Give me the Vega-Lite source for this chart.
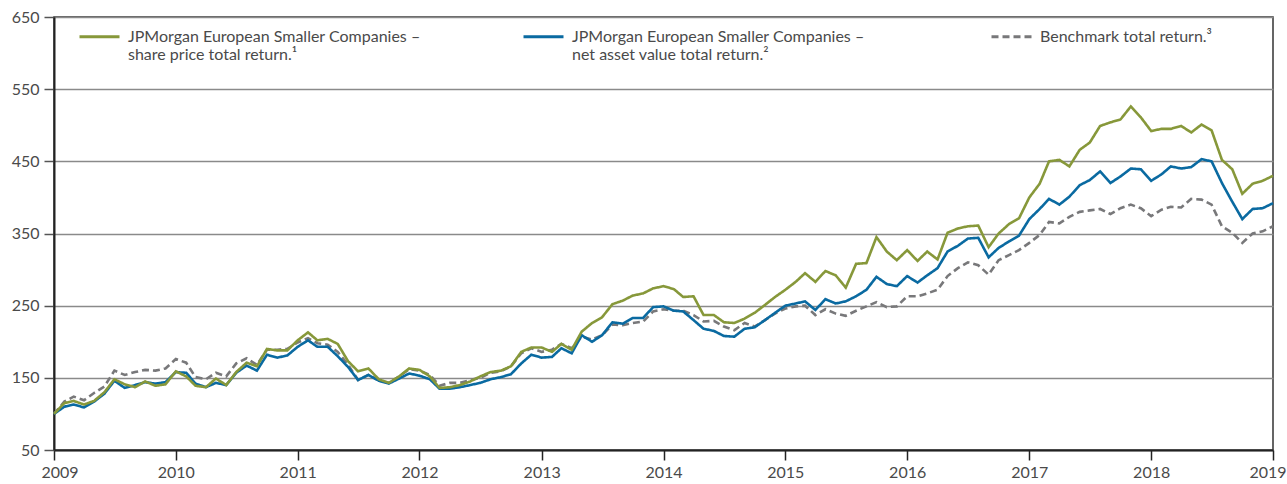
{
  "$schema": "https://vega.github.io/schema/vega-lite/v6.json",
  "width": 1219,
  "height": 433,
  "autosize": {"type": "none"},
  "padding": {"left": 54, "top": 17, "right": 14, "bottom": 34},
  "background": "white",
  "config": {
    "font": "Lato",
    "view": {"stroke": "#333333", "strokeWidth": 1.5},
    "axis": {"labelFont": "Lato", "labelFontSize": 16, "labelColor": "#4a4a4a", "title": null}
  },
  "data": {"values": [
    {"date": "2009-01-01", "sp": 100, "nav": 100, "bm": 100},
    {"date": "2009-02-01", "sp": 115, "nav": 110, "bm": 117},
    {"date": "2009-03-01", "sp": 118, "nav": 113, "bm": 124},
    {"date": "2009-04-01", "sp": 113, "nav": 109, "bm": 119},
    {"date": "2009-05-01", "sp": 118, "nav": 117, "bm": 129},
    {"date": "2009-06-01", "sp": 130, "nav": 128, "bm": 138},
    {"date": "2009-07-01", "sp": 148, "nav": 146, "bm": 160},
    {"date": "2009-08-01", "sp": 141, "nav": 136, "bm": 154},
    {"date": "2009-09-01", "sp": 137, "nav": 140, "bm": 158},
    {"date": "2009-10-01", "sp": 145, "nav": 144, "bm": 161},
    {"date": "2009-11-01", "sp": 139, "nav": 142, "bm": 160},
    {"date": "2009-12-01", "sp": 141, "nav": 144, "bm": 163},
    {"date": "2010-01-01", "sp": 159, "nav": 158, "bm": 176},
    {"date": "2010-02-01", "sp": 152, "nav": 157, "bm": 171},
    {"date": "2010-03-01", "sp": 139, "nav": 142, "bm": 151},
    {"date": "2010-04-01", "sp": 137, "nav": 137, "bm": 148},
    {"date": "2010-05-01", "sp": 149, "nav": 143, "bm": 157},
    {"date": "2010-06-01", "sp": 140, "nav": 140, "bm": 152},
    {"date": "2010-07-01", "sp": 158, "nav": 157, "bm": 170},
    {"date": "2010-08-01", "sp": 171, "nav": 167, "bm": 177},
    {"date": "2010-09-01", "sp": 166, "nav": 160, "bm": 168},
    {"date": "2010-10-01", "sp": 190, "nav": 182, "bm": 189},
    {"date": "2010-11-01", "sp": 188, "nav": 178, "bm": 189},
    {"date": "2010-12-01", "sp": 188, "nav": 181, "bm": 190},
    {"date": "2011-01-01", "sp": 202, "nav": 193, "bm": 199},
    {"date": "2011-02-01", "sp": 213, "nav": 202, "bm": 205},
    {"date": "2011-03-01", "sp": 202, "nav": 193, "bm": 198},
    {"date": "2011-04-01", "sp": 204, "nav": 193, "bm": 196},
    {"date": "2011-05-01", "sp": 197, "nav": 180, "bm": 186},
    {"date": "2011-06-01", "sp": 173, "nav": 165, "bm": 168},
    {"date": "2011-07-01", "sp": 159, "nav": 147, "bm": 147},
    {"date": "2011-08-01", "sp": 163, "nav": 154, "bm": 154},
    {"date": "2011-09-01", "sp": 148, "nav": 146, "bm": 147},
    {"date": "2011-10-01", "sp": 143, "nav": 142, "bm": 143},
    {"date": "2011-11-01", "sp": 152, "nav": 149, "bm": 152},
    {"date": "2011-12-01", "sp": 163, "nav": 156, "bm": 162},
    {"date": "2012-01-01", "sp": 161, "nav": 153, "bm": 160},
    {"date": "2012-02-01", "sp": 152, "nav": 148, "bm": 154},
    {"date": "2012-03-01", "sp": 136, "nav": 135, "bm": 139},
    {"date": "2012-04-01", "sp": 137, "nav": 135, "bm": 143},
    {"date": "2012-05-01", "sp": 140, "nav": 137, "bm": 143},
    {"date": "2012-06-01", "sp": 145, "nav": 140, "bm": 147},
    {"date": "2012-07-01", "sp": 152, "nav": 143, "bm": 150},
    {"date": "2012-08-01", "sp": 158, "nav": 148, "bm": 157},
    {"date": "2012-09-01", "sp": 160, "nav": 151, "bm": 159},
    {"date": "2012-10-01", "sp": 166, "nav": 155, "bm": 166},
    {"date": "2012-11-01", "sp": 186, "nav": 170, "bm": 184},
    {"date": "2012-12-01", "sp": 192, "nav": 182, "bm": 191},
    {"date": "2013-01-01", "sp": 192, "nav": 178, "bm": 186},
    {"date": "2013-02-01", "sp": 186, "nav": 179, "bm": 189},
    {"date": "2013-03-01", "sp": 197, "nav": 191, "bm": 197},
    {"date": "2013-04-01", "sp": 189, "nav": 184, "bm": 191},
    {"date": "2013-05-01", "sp": 214, "nav": 209, "bm": 207},
    {"date": "2013-06-01", "sp": 226, "nav": 200, "bm": 203},
    {"date": "2013-07-01", "sp": 234, "nav": 209, "bm": 209},
    {"date": "2013-08-01", "sp": 252, "nav": 227, "bm": 224},
    {"date": "2013-09-01", "sp": 257, "nav": 225, "bm": 223},
    {"date": "2013-10-01", "sp": 264, "nav": 233, "bm": 226},
    {"date": "2013-11-01", "sp": 267, "nav": 233, "bm": 228},
    {"date": "2013-12-01", "sp": 274, "nav": 248, "bm": 242},
    {"date": "2014-01-01", "sp": 277, "nav": 249, "bm": 245},
    {"date": "2014-02-01", "sp": 273, "nav": 243, "bm": 243},
    {"date": "2014-03-01", "sp": 262, "nav": 242, "bm": 243},
    {"date": "2014-04-01", "sp": 263, "nav": 230, "bm": 237},
    {"date": "2014-05-01", "sp": 237, "nav": 218, "bm": 228},
    {"date": "2014-06-01", "sp": 237, "nav": 215, "bm": 229},
    {"date": "2014-07-01", "sp": 227, "nav": 208, "bm": 221},
    {"date": "2014-08-01", "sp": 226, "nav": 207, "bm": 216},
    {"date": "2014-09-01", "sp": 232, "nav": 218, "bm": 226},
    {"date": "2014-10-01", "sp": 240, "nav": 220, "bm": 221},
    {"date": "2014-11-01", "sp": 251, "nav": 230, "bm": 230},
    {"date": "2014-12-01", "sp": 262, "nav": 240, "bm": 239},
    {"date": "2015-01-01", "sp": 272, "nav": 250, "bm": 246},
    {"date": "2015-02-01", "sp": 283, "nav": 253, "bm": 249},
    {"date": "2015-03-01", "sp": 295, "nav": 256, "bm": 250},
    {"date": "2015-04-01", "sp": 283, "nav": 244, "bm": 237},
    {"date": "2015-05-01", "sp": 298, "nav": 259, "bm": 245},
    {"date": "2015-06-01", "sp": 292, "nav": 253, "bm": 239},
    {"date": "2015-07-01", "sp": 275, "nav": 256, "bm": 236},
    {"date": "2015-08-01", "sp": 308, "nav": 263, "bm": 243},
    {"date": "2015-09-01", "sp": 309, "nav": 272, "bm": 249},
    {"date": "2015-10-01", "sp": 345, "nav": 290, "bm": 255},
    {"date": "2015-11-01", "sp": 325, "nav": 280, "bm": 248},
    {"date": "2015-12-01", "sp": 313, "nav": 277, "bm": 249},
    {"date": "2016-01-01", "sp": 327, "nav": 291, "bm": 263},
    {"date": "2016-02-01", "sp": 312, "nav": 282, "bm": 263},
    {"date": "2016-03-01", "sp": 325, "nav": 292, "bm": 267},
    {"date": "2016-04-01", "sp": 314, "nav": 302, "bm": 272},
    {"date": "2016-05-01", "sp": 351, "nav": 325, "bm": 291},
    {"date": "2016-06-01", "sp": 357, "nav": 333, "bm": 302},
    {"date": "2016-07-01", "sp": 360, "nav": 343, "bm": 310},
    {"date": "2016-08-01", "sp": 361, "nav": 344, "bm": 306},
    {"date": "2016-09-01", "sp": 331, "nav": 317, "bm": 293},
    {"date": "2016-10-01", "sp": 350, "nav": 330, "bm": 313},
    {"date": "2016-11-01", "sp": 363, "nav": 339, "bm": 320},
    {"date": "2016-12-01", "sp": 371, "nav": 347, "bm": 327},
    {"date": "2017-01-01", "sp": 400, "nav": 370, "bm": 337},
    {"date": "2017-02-01", "sp": 419, "nav": 384, "bm": 348},
    {"date": "2017-03-01", "sp": 450, "nav": 398, "bm": 366},
    {"date": "2017-04-01", "sp": 452, "nav": 390, "bm": 364},
    {"date": "2017-05-01", "sp": 443, "nav": 401, "bm": 373},
    {"date": "2017-06-01", "sp": 466, "nav": 417, "bm": 380},
    {"date": "2017-07-01", "sp": 476, "nav": 424, "bm": 382},
    {"date": "2017-08-01", "sp": 499, "nav": 436, "bm": 384},
    {"date": "2017-09-01", "sp": 504, "nav": 420, "bm": 377},
    {"date": "2017-10-01", "sp": 508, "nav": 429, "bm": 385},
    {"date": "2017-11-01", "sp": 526, "nav": 440, "bm": 390},
    {"date": "2017-12-01", "sp": 511, "nav": 439, "bm": 385},
    {"date": "2018-01-01", "sp": 492, "nav": 423, "bm": 374},
    {"date": "2018-02-01", "sp": 495, "nav": 432, "bm": 383},
    {"date": "2018-03-01", "sp": 495, "nav": 443, "bm": 387},
    {"date": "2018-04-01", "sp": 499, "nav": 440, "bm": 386},
    {"date": "2018-05-01", "sp": 490, "nav": 442, "bm": 398},
    {"date": "2018-06-01", "sp": 501, "nav": 453, "bm": 397},
    {"date": "2018-07-01", "sp": 493, "nav": 450, "bm": 390},
    {"date": "2018-08-01", "sp": 452, "nav": 420, "bm": 360},
    {"date": "2018-09-01", "sp": 439, "nav": 394, "bm": 351},
    {"date": "2018-10-01", "sp": 405, "nav": 370, "bm": 337},
    {"date": "2018-11-01", "sp": 419, "nav": 384, "bm": 350},
    {"date": "2018-12-01", "sp": 423, "nav": 385, "bm": 353},
    {"date": "2019-01-01", "sp": 430, "nav": 392, "bm": 360}
  ]},
  "transform": [{"fold": ["bm", "nav", "sp"], "as": ["series", "value"]}],
  "mark": {"type": "line", "strokeWidth": 2.6},
  "encoding": {
    "x": {
      "field": "date",
      "type": "temporal",
      "scale": {"type": "utc", "domain": [{"year": 2009, "month": 1, "date": 1, "utc": true}, {"year": 2019, "month": 1, "date": 1, "utc": true}]},
      "axis": {
        "values": [
          {"year": 2009, "month": 1, "date": 1, "utc": true},
          {"year": 2010, "month": 1, "date": 1, "utc": true},
          {"year": 2011, "month": 1, "date": 1, "utc": true},
          {"year": 2012, "month": 1, "date": 1, "utc": true},
          {"year": 2013, "month": 1, "date": 1, "utc": true},
          {"year": 2014, "month": 1, "date": 1, "utc": true},
          {"year": 2015, "month": 1, "date": 1, "utc": true},
          {"year": 2016, "month": 1, "date": 1, "utc": true},
          {"year": 2017, "month": 1, "date": 1, "utc": true},
          {"year": 2018, "month": 1, "date": 1, "utc": true},
          {"year": 2019, "month": 1, "date": 1, "utc": true}
        ],
        "format": "%Y",
        "formatType": "utc",
        "grid": false,
        "domainColor": "#222222",
        "domainWidth": 2,
        "tickColor": "#222222",
        "tickSize": 10,
        "tickWidth": 1.5,
        "labelPadding": 4,
        "labelFlush": true,
        "labelFlushOffset": 13,
        "labelOverlap": false
      }
    },
    "y": {
      "field": "value",
      "type": "quantitative",
      "scale": {"domain": [50, 650], "nice": false, "zero": false},
      "axis": {
        "values": [50, 150, 250, 350, 450, 550, 650],
        "grid": true,
        "gridColor": "#8a8a8a",
        "gridWidth": 1.5,
        "domainColor": "#222222",
        "domainWidth": 2,
        "tickColor": "#555555",
        "tickSize": 10,
        "tickWidth": 1.5,
        "labelPadding": 5,
        "labelFlush": false,
        "labelOverlap": false
      }
    },
    "color": {
      "field": "series",
      "type": "nominal",
      "scale": {"domain": ["sp", "nav", "bm"], "range": ["#87983a", "#0a6aa1", "#78787a"]},
      "legend": {
        "orient": "none",
        "legendX": 24,
        "legendY": -2,
        "direction": "horizontal",
        "columns": 3,
        "columnPadding": 96,
        "padding": 0,
        "title": null,
        "symbolType": "stroke",
        "symbolSize": 1600,
        "symbolStrokeWidth": 3,
        "labelFont": "Lato",
        "labelFontSize": 16,
        "labelColor": "#4a4a4a",
        "labelOffset": 7,
        "labelLimit": 500,
        "labelExpr": "datum.value == 'sp' ? ['JPMorgan European Smaller Companies –', 'share price total return.¹'] : datum.value == 'nav' ? ['JPMorgan European Smaller Companies –\u2800\u2800', 'net asset value total return.²'] : ['Benchmark total return.³', ' ']"
      }
    },
    "strokeDash": {
      "field": "series",
      "type": "nominal",
      "scale": {"domain": ["sp", "nav", "bm"], "range": [[1, 0], [1, 0], [7, 4]]},
      "legend": {
        "orient": "none",
        "legendX": 24,
        "legendY": -2,
        "direction": "horizontal",
        "columns": 3,
        "columnPadding": 96,
        "padding": 0,
        "title": null,
        "symbolType": "stroke",
        "symbolSize": 1600,
        "symbolStrokeWidth": 3,
        "labelFont": "Lato",
        "labelFontSize": 16,
        "labelColor": "#4a4a4a",
        "labelOffset": 7,
        "labelLimit": 500,
        "labelExpr": "datum.value == 'sp' ? ['JPMorgan European Smaller Companies –', 'share price total return.¹'] : datum.value == 'nav' ? ['JPMorgan European Smaller Companies –\u2800\u2800', 'net asset value total return.²'] : ['Benchmark total return.³', ' ']"
      }
    }
  }
}
